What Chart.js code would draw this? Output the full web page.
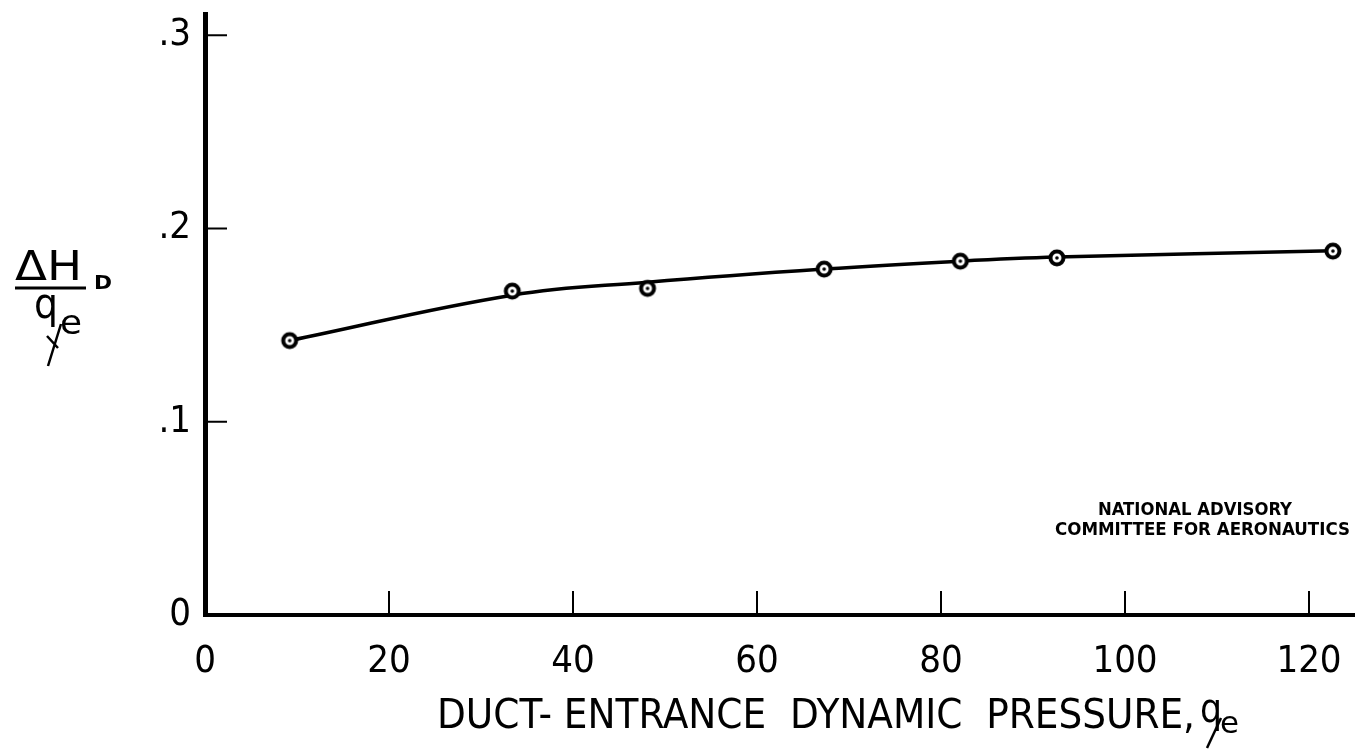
<!DOCTYPE html>
<html>
<head>
<meta charset="utf-8">
<script src="https://cdn.jsdelivr.net/npm/chart.js@4"></script>
<style>
  body { margin: 0; background: #fff; }
  canvas { display: block; }
</style>
</head>
<body>
<canvas id="duct-chart" width="1355" height="750"></canvas>
<script>
// duct entrance test points
const pressure = [9.2, 33.4, 48.1, 67.3, 82.1, 92.6, 122.6];
const lossRatio = [0.142, 0.1676, 0.169, 0.179, 0.1831, 0.1848, 0.1883];
// faired curve read at the same pressures (it misses some points slightly)
const fairedRatio = [0.142, 0.1655, 0.1722, 0.179, 0.1831, 0.1852, 0.1885];
const xTicks = [0, 20, 40, 60, 80, 100, 120];
const yTicks = [0, 0.1, 0.2, 0.3];

const handFont = "'Liberation Sans Narrow', 'DejaVu Sans Condensed', sans-serif";

// circle with a dot in the middle, like the plotted symbols
function makeMarker() {
  let c = document.createElement("canvas");
  c.width = 22; c.height = 22;
  let g = c.getContext("2d");
  g.beginPath();
  g.arc(11, 11, 6.5, 0, Math.PI * 2);
  g.fillStyle = "#fff";
  g.fill();
  g.lineWidth = 4;
  g.strokeStyle = "#000";
  g.stroke();
  g.beginPath();
  g.arc(11, 11, 1.8, 0, Math.PI * 2);
  g.fillStyle = "#000";
  g.fill();
  return c;
}

function fitText(ctx, text, x, y, width) {
  let w = ctx.measureText(text).width;
  ctx.save();
  ctx.translate(x, y);
  ctx.scale(width / w, 1);
  ctx.fillText(text, 0, 0);
  ctx.restore();
}

const extras = {
  id: "extras",
  afterDraw(chart) {
    let ctx = chart.ctx;
    let area = chart.chartArea;
    let xs = chart.scales.x, ys = chart.scales.y;
    ctx.save();
    ctx.strokeStyle = "#000";
    ctx.fillStyle = "#000";

    // inward tick marks
    ctx.lineWidth = 2;
    yTicks.forEach(v => {
      if (v === 0) return;
      let py = ys.getPixelForValue(v);
      ctx.beginPath();
      ctx.moveTo(area.left, py);
      ctx.lineTo(area.left + 22, py);
      ctx.stroke();
    });
    xTicks.forEach(v => {
      if (v === 0) return;
      let px = xs.getPixelForValue(v);
      ctx.beginPath();
      ctx.moveTo(px, area.bottom);
      ctx.lineTo(px, area.bottom - 24);
      ctx.stroke();
    });

    // x axis title
    ctx.textBaseline = "alphabetic";
    ctx.font = "40px " + handFont;
    fitText(ctx, "DUCT- ENTRANCE  DYNAMIC  PRESSURE,", 437, 728, 758);
    fitText(ctx, "q", 1200, 722, 22);
    ctx.font = "30px " + handFont;
    fitText(ctx, "e", 1220, 733, 19);
    ctx.lineWidth = 2.5;
    ctx.beginPath();
    ctx.moveTo(1207, 748);
    ctx.lineTo(1221, 718);
    ctx.stroke();

    // y axis label, a fraction
    ctx.font = "40px " + handFont;
    fitText(ctx, "\u0394H", 15, 280, 67);
    ctx.font = "bold 19px " + handFont;
    fitText(ctx, "D", 94, 289, 18);
    ctx.lineWidth = 3;
    ctx.beginPath();
    ctx.moveTo(15, 288);
    ctx.lineTo(86, 288);
    ctx.stroke();
    ctx.font = "42px " + handFont;
    fitText(ctx, "q", 34, 318, 24);
    ctx.font = "34px " + handFont;
    fitText(ctx, "e", 60, 334, 22);
    ctx.lineWidth = 2.5;
    ctx.beginPath();
    ctx.moveTo(48, 366);
    ctx.lineTo(61, 324);
    ctx.moveTo(47, 336);
    ctx.lineTo(58, 348);
    ctx.stroke();

    // agency stamp
    ctx.font = "bold 17px " + handFont;
    fitText(ctx, "NATIONAL ADVISORY", 1098, 515, 194);
    fitText(ctx, "COMMITTEE FOR AERONAUTICS", 1055, 535, 295);
    ctx.restore();
  }
};

const marker = makeMarker();

new Chart(document.getElementById("duct-chart"), {
  type: "scatter",
  data: {
    datasets: [{
      label: "faired curve",
      data: pressure.map((p, i) => ({ x: p, y: fairedRatio[i] })),
      showLine: true,
      borderColor: "#000",
      borderWidth: 3.5,
      tension: 0.4,
      pointRadius: 0,
      order: 2
    }, {
      label: "test points",
      data: pressure.map((p, i) => ({ x: p, y: lossRatio[i] })),
      showLine: false,
      pointStyle: marker,
      pointRadius: 10,
      order: 1
    }]
  },
  plugins: [extras],
  options: {
    responsive: false,
    animation: false,
    layout: { autoPadding: false, padding: { left: 0, right: 0, top: 14, bottom: 0 } },
    plugins: {
      legend: { display: false },
      tooltip: { enabled: false }
    },
    scales: {
      x: {
        type: "linear",
        min: 0,
        max: 125,
        afterBuildTicks: s => { s.ticks = xTicks.map(v => ({ value: v })); },
        afterFit: s => { s.height = 135; s.paddingLeft = 0; s.paddingRight = 0; },
        // invisible tick marks just push the labels down
        grid: { display: true, drawOnChartArea: false, drawTicks: true, tickLength: 24, color: "rgba(0,0,0,0)" },
        border: { display: true, color: "#000", width: 4 },
        ticks: {
          color: "#000",
          padding: 0,
          font: { family: handFont, size: 38 },
          maxRotation: 0
        }
      },
      y: {
        type: "linear",
        min: 0,
        max: 0.311,
        afterBuildTicks: s => { s.ticks = yTicks.map(v => ({ value: v })); },
        afterFit: s => { s.width = 205; s.paddingTop = 0; s.paddingBottom = 0; },
        grid: { display: false, drawTicks: false },
        border: { display: true, color: "#000", width: 5 },
        ticks: {
          color: "#000",
          padding: 14,
          font: { family: handFont, size: 38 },
          callback: v => v === 0 ? "0" : "." + Math.round(v * 10)
        }
      }
    }
  }
});
</script>
</body>
</html>
